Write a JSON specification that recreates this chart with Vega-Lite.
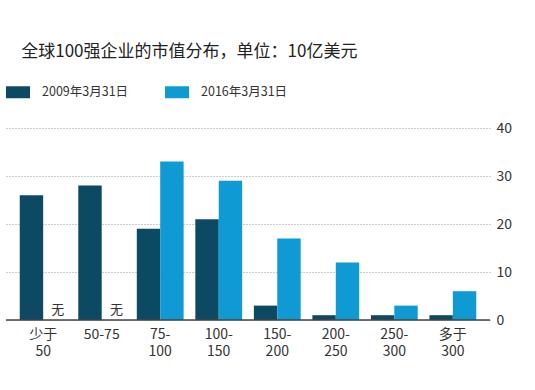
{
  "$schema": "https://vega.github.io/schema/vega-lite/v6.json",
  "autosize": {"type": "none"},
  "padding": {"left": 6, "top": 128, "right": 45, "bottom": 70},
  "width": 484,
  "height": 192,
  "background": "white",
  "title": {
    "text": "全球100强企业的市值分布，单位：10亿美元",
    "anchor": "start",
    "dx": 16,
    "offset": 19,
    "fontSize": 17,
    "fontWeight": "normal",
    "font": "Noto Sans CJK SC",
    "color": "#222222"
  },
  "config": {
    "view": {"stroke": null},
    "font": "Noto Sans CJK SC"
  },
  "layer": [
    {
      "data": {
        "values": [
          {"cat": "少于50", "series": "2009年3月31日", "value": 26},
          {"cat": "少于50", "series": "2016年3月31日", "value": 0, "note": "无"},
          {"cat": "50-75", "series": "2009年3月31日", "value": 28},
          {"cat": "50-75", "series": "2016年3月31日", "value": 0, "note": "无"},
          {"cat": "75-100", "series": "2009年3月31日", "value": 19},
          {"cat": "75-100", "series": "2016年3月31日", "value": 33},
          {"cat": "100-150", "series": "2009年3月31日", "value": 21},
          {"cat": "100-150", "series": "2016年3月31日", "value": 29},
          {"cat": "150-200", "series": "2009年3月31日", "value": 3},
          {"cat": "150-200", "series": "2016年3月31日", "value": 17},
          {"cat": "200-250", "series": "2009年3月31日", "value": 1},
          {"cat": "200-250", "series": "2016年3月31日", "value": 12},
          {"cat": "250-300", "series": "2009年3月31日", "value": 1},
          {"cat": "250-300", "series": "2016年3月31日", "value": 3},
          {"cat": "多于300", "series": "2009年3月31日", "value": 1},
          {"cat": "多于300", "series": "2016年3月31日", "value": 6}
        ]
      },
      "layer": [
        {
          "mark": {"type": "bar"},
          "encoding": {
            "x": {
              "field": "cat",
              "type": "nominal",
              "sort": null,
              "scale": {"paddingInner": 0.2, "paddingOuter": 0.235},
              "axis": {
                "title": null,
                "domain": false,
                "ticks": false,
                "labelAngle": 0,
                "labelFontSize": 14,
                "labelColor": "#333333",
                "labelPadding": 7,
                "labelLineHeight": 17,
                "labelExpr": "datum.value == '50-75' ? datum.value : (indexof(datum.value, '-') > 0 ? [substring(datum.value, 0, indexof(datum.value, '-') + 1), substring(datum.value, indexof(datum.value, '-') + 1)] : [substring(datum.value, 0, 2), substring(datum.value, 2)])"
              }
            },
            "xOffset": {"field": "series", "type": "nominal", "scale": {"paddingInner": 0, "paddingOuter": 0}},
            "y": {
              "field": "value",
              "type": "quantitative",
              "scale": {"domain": [0, 40]},
              "axis": {
                "orient": "right",
                "title": null,
                "values": [0, 10, 20, 30, 40],
                "domain": false,
                "ticks": false,
                "labelFontSize": 14,
                "labelColor": "#333333",
                "labelPadding": 6,
                "gridDash": [1, 2],
                "gridColor": "#999999",
                "gridWidth": 1
              }
            },
            "color": {
              "field": "series",
              "type": "nominal",
              "scale": {"range": ["#0c4a64", "#109ad4"]},
              "legend": {
                "title": null,
                "orient": "none",
                "legendX": 0,
                "legendY": -48,
                "direction": "horizontal",
                "padding": 0,
                "symbolType": "M-1,-0.5H1V0.5H-1Z",
                "symbolSize": 576,
                "symbolStrokeWidth": 0,
                "symbolOpacity": 1,
                "labelFontSize": 12.5,
                "labelColor": "#333333",
                "labelOffset": 12,
                "columnPadding": 36
              }
            }
          }
        },
        {
          "transform": [{"filter": "datum.note"}],
          "mark": {"type": "text", "fontSize": 13, "color": "#333333", "dy": -10, "dx": 3},
          "encoding": {
            "x": {"field": "cat", "type": "nominal", "sort": null},
            "xOffset": {"field": "series", "type": "nominal"},
            "y": {"field": "value", "type": "quantitative"},
            "text": {"field": "note"}
          }
        }
      ]
    },
    {
      "data": {"values": [{"v": 0}]},
      "mark": {"type": "rule", "color": "#444444", "strokeWidth": 1.5},
      "encoding": {"y": {"field": "v", "type": "quantitative"}}
    }
  ]
}
